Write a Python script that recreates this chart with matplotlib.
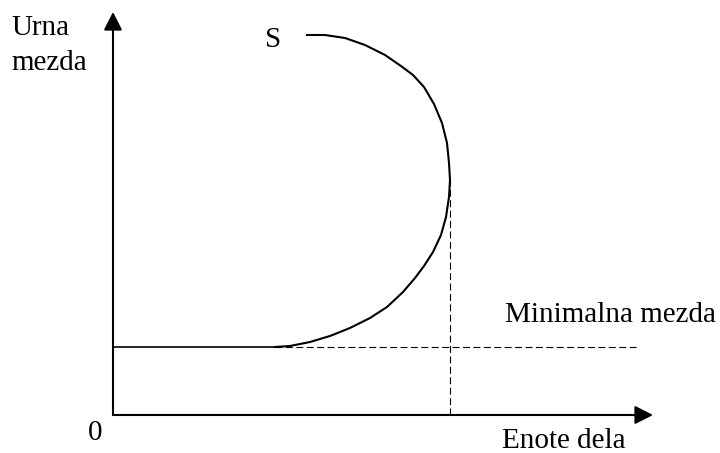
import matplotlib
matplotlib.use('Agg')
import matplotlib.pyplot as plt

# supply curve S (x = units of labour, y = hourly wage)
curve_x = [162, 177, 197, 217, 237, 257, 274, 290, 302, 311, 320, 328, 333, 336, 337,
           336, 334, 329, 321, 311, 300, 288, 272, 252, 232, 212, 194]
curve_y = [68, 69, 73, 79, 87, 97, 108, 123, 137, 149, 163, 180, 198, 218, 235,
           252, 272, 292, 311, 328, 340, 349, 360, 370, 377, 380, 380]

min_wage = 68
min_wage_end = 524
max_x = 337
max_y = 235
axis_x_end = 540
axis_y_end = 403

plt.rcParams['font.family'] = ['Liberation Serif', 'DejaVu Serif']
plt.rcParams['lines.scale_dashes'] = False

fig = plt.figure(figsize=(7.2, 4.53), dpi=100)
ax = fig.add_axes([0, 0, 1, 1])
ax.set_xlim(-113, 607)
ax.set_ylim(-38, 415)
ax.axis('off')

# axes with arrow heads
arrow = dict(arrowstyle='-|>,head_length=0.55,head_width=0.28', color='black',
             lw=1.5, shrinkA=0, shrinkB=0, mutation_scale=20)
ax.annotate('', xy=(axis_x_end, 0), xytext=(0, 0), arrowprops=arrow)
ax.annotate('', xy=(0, axis_y_end), xytext=(0, 0), arrowprops=arrow)

# minimum wage: solid until the curve starts, dashed afterwards
ax.plot([0, curve_x[0]], [min_wage, min_wage], color='black', lw=1.2)
ax.plot([curve_x[0], min_wage_end], [min_wage, min_wage], color='black', lw=0.8,
        dashes=(5, 2.5))
ax.plot([max_x, max_x], [0, max_y], color='black', lw=0.8, dashes=(5, 2.5))

ax.plot(curve_x, curve_y, color='black', lw=1.5, solid_joinstyle='round')

fs = 21
ax.text(-102, 380, 'Urna', fontsize=fs, va='baseline')
ax.text(-102, 345, 'mezda', fontsize=fs, va='baseline')
ax.text(152, 368, 'S', fontsize=fs, va='baseline')
ax.text(-25, -25, '0', fontsize=fs, va='baseline')
ax.text(392, 93, 'Minimalna mezda', fontsize=fs, va='baseline')
ax.text(389, -33, 'Enote dela', fontsize=fs, va='baseline')

fig.savefig('out.png', dpi=100)
